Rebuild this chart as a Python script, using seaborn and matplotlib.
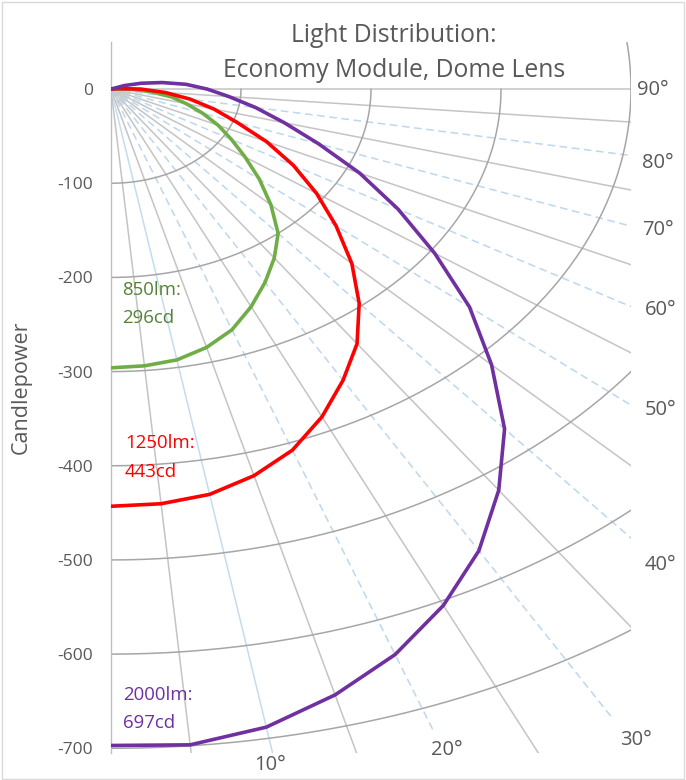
import numpy as np
import pandas as pd
import matplotlib
matplotlib.use("Agg")
import matplotlib.pyplot as plt
from matplotlib.patches import Rectangle
import seaborn as sb

# candlepower readings, angle measured from straight down (nadir)
angles_850 = [0, 5, 10, 15, 20, 25, 30, 35, 40, 45, 50, 55, 60, 65, 70, 75, 80, 85, 90, 95]
cd_850 = [296, 295, 292, 284, 272, 255, 237, 219, 200, 174, 149, 126, 107, 91, 75, 60, 47, 30, 15, 0]

angles_1250 = [0, 5, 10, 15, 20, 25, 30, 35, 40, 45, 50, 55, 60, 65, 70, 75, 80, 85, 90, 95, 100]
cd_1250 = [443, 442, 437, 425, 408, 384, 357, 330, 297, 262, 226, 193, 162, 132, 103, 82, 62, 42, 23, 6, 0]

angles_2000 = [0, 5, 10, 15, 20, 25, 30, 35, 40, 45, 50, 55, 60, 65, 70, 75, 80, 85, 90, 95, 100, 105, 110, 115]
cd_2000 = [697, 699, 688, 666, 639, 605, 566, 520, 471, 414, 360, 304, 255, 211, 170, 138, 113, 91, 74, 58, 40, 24, 11, 0]

series_names = ["850lm", "1250lm", "2000lm"]
peak_cd = [296, 443, 697]

grid_radii = [100, 200, 300, 400, 500, 600, 700]
y_ticks = [0, -100, -200, -300, -400, -500, -600, -700]
angle_labels = [10, 20, 30, 40, 50, 60, 70, 80, 90]

# layout / style
colors = {"850lm": "#70AD47", "1250lm": "#FF0000", "2000lm": "#7030A0"}
note_colors = {"850lm": "#548235", "1250lm": "#FF0000", "2000lm": "#7030A0"}
note_pos = {"850lm": (8.2, -218.7, -248.4), "1250lm": (10.7, -381.5, -411.6), "2000lm": (9.2, -648.7, -678.5)}
label_pos = {10: (122, -718), 20: (258, -702), 30: (404, -691), 40: (423, -505), 50: (423, -341),
             60: (423, -235), 70: (421, -150), 80: (421, -78), 90: (417, -1.5)}
text_grey = "#595959"


def to_xy(angles, cd):
    t = np.radians(angles)
    r = np.array(cd, dtype=float)
    return pd.DataFrame({"x": r * np.sin(t), "y": -r * np.cos(t)})


def main():
    sb.set_style("white")
    plt.rcParams["font.family"] = ["Open Sans", "DejaVu Sans"]
    plt.rcParams["axes.unicode_minus"] = False

    fig = plt.figure(figsize=(6.86, 7.80), dpi=100)
    ax = fig.add_axes([111 / 686, 27 / 780, 520 / 686, 711 / 780])

    # radial guide lines
    for a in range(5, 91, 5):
        t = np.radians(a)
        if a % 10 == 5 or a == 90:
            ln, c, ls = 1000, "#C4C4C4", "-"
        elif a == 10:
            ln, c, ls = 1000, "#C5DCEF", "-"
        else:
            ln = {20: 727, 30: 769}.get(a, 1000)
            c, ls = "#BDD7EE", (0, (5, 3))
        ax.plot([0, ln * np.sin(t)], [0, -ln * np.cos(t)], color=c, lw=1.1, ls=ls, zorder=1)

    # candlepower rings
    for r in grid_radii:
        end = 110 if r == 400 else 90
        t = np.radians(np.linspace(0, end, 200))
        ax.plot(r * np.sin(t), -r * np.cos(t), color="#A6A6A6", lw=1.1, zorder=2)

    data = {"850lm": (angles_850, cd_850), "1250lm": (angles_1250, cd_1250),
            "2000lm": (angles_2000, cd_2000)}
    for name in series_names:
        D = to_xy(*data[name])
        sb.lineplot(data=D, x="x", y="y", sort=False, estimator=None, color=colors[name], lw=2.6,
                    ax=ax, zorder=5, legend=False, solid_joinstyle="round", solid_capstyle="round")

    for name, cd in zip(series_names, peak_cd):
        x, y1, y2 = note_pos[name]
        ax.text(x, y1, f"{name}:", color=note_colors[name], fontsize=13.4, va="baseline", ha="left", zorder=6)
        ax.text(x, y2, f"{cd}cd", color=note_colors[name], fontsize=13.4, va="baseline", ha="left", zorder=6)

    for a in angle_labels:
        x, y = label_pos[a]
        ax.text(x, y, f"{a}°", color=text_grey, fontsize=14.5, ha="center", va="center", clip_on=False)

    ax.set_xlim(0, 400)
    ax.set_ylim(-705, 50)
    ax.set_xticks([])
    ax.set_yticks(y_ticks)
    ax.set_yticklabels([str(v) for v in y_ticks])
    ax.tick_params(axis="y", length=0, pad=13, labelsize=12.5, labelcolor=text_grey)
    ax.set_xlabel("")
    ax.set_ylabel("")
    for s in ["top", "right", "bottom"]:
        ax.spines[s].set_visible(False)
    ax.spines["left"].set_color("#BFBFBF")
    ax.spines["left"].set_linewidth(1.0)
    ax.set_facecolor("none")

    fig.text(21.7 / 686, 1 - 387 / 780, "Candlepower", rotation=90, ha="center", va="center",
             fontsize=15.5, color=text_grey)
    fig.text(394 / 686, 1 - 41.7 / 780, "Light Distribution:", ha="center", va="baseline",
             fontsize=17.8, color=text_grey)
    fig.text(394 / 686, 1 - 76.7 / 780, "Economy Module, Dome Lens", ha="center", va="baseline",
             fontsize=17.8, color=text_grey)

    fig.patches.append(Rectangle((0.003, 0.001), 0.994, 0.997, transform=fig.transFigure,
                                 fill=False, edgecolor="#D9D9D9", lw=1))
    fig.savefig("out.png", dpi=100)
    plt.close(fig)


if __name__ == "__main__":
    main()
